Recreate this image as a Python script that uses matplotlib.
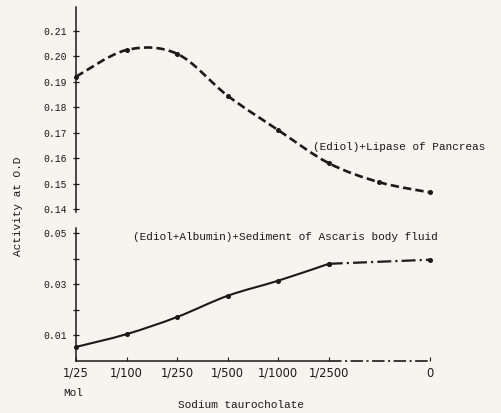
import numpy as np
import matplotlib.pyplot as plt
from matplotlib.path import Path
from matplotlib.patches import PathPatch
from matplotlib.transforms import blended_transform_factory

plt.rcParams['lines.scale_dashes'] = False

# sodium taurocholate concentrations (plot positions), "0" = no bile salt
conc_labels = ['1/25', '1/100', '1/250', '1/500', '1/1000', '1/2500', '0']
conc_pos = [0, 1, 2, 3, 4, 5, 7]

# (Ediol)+Lipase of Pancreas, extra reading between 1/2500 and 0
lipase_pos = [0, 1, 2, 3, 4, 5, 6, 7]
lipase_od = [0.192, 0.2025, 0.201, 0.1845, 0.171, 0.158, 0.1505, 0.1465]

# (Ediol+Albumin)+Sediment of Ascaris body fluid
ascaris_od = [0.0055, 0.0105, 0.0172, 0.0255, 0.0314, 0.038, 0.0396]

bg = '#f6f4ef'
ink = '#1a1a1a'
mono = 'Liberation Mono'

W, H = 501, 413
fig = plt.figure(figsize=(W / 100, H / 100), dpi=100, facecolor=bg)


def px_axes(left, top, right, bottom):
    return fig.add_axes([left / W, 1 - bottom / H, (right - left) / W, (bottom - top) / H])


def smooth_path(x, y):
    # Catmull-Rom through the readings, written as cubic Bezier segments
    x = np.asarray(x, float)
    y = np.asarray(y, float)
    verts = [(x[0], y[0])]
    codes = [Path.MOVETO]
    n = len(x)
    for i in range(n - 1):
        i0, i3 = max(i - 1, 0), min(i + 2, n - 1)
        c1 = (x[i] + (x[i + 1] - x[i0]) / 6, y[i] + (y[i + 1] - y[i0]) / 6)
        c2 = (x[i + 1] - (x[i3] - x[i]) / 6, y[i + 1] - (y[i3] - y[i]) / 6)
        verts += [c1, c2, (x[i + 1], y[i + 1])]
        codes += [Path.CURVE4] * 3
    return Path(verts, codes)


def draw_curve(ax, x, y, lw, dashes=None):
    ls = (0, dashes) if dashes else '-'
    ax.add_patch(PathPatch(smooth_path(x, y), fill=False, edgecolor=ink, lw=lw,
                           linestyle=ls, clip_on=False, capstyle='butt'))
    ax.plot(x, y, ls='none', marker='o', ms=2.6, mec=ink, mfc=ink, clip_on=False)


ax1 = px_axes(76, 7, 440, 212)
ax2 = px_axes(76, 228, 440, 361)

for ax in (ax1, ax2):
    ax.set_facecolor('none')
    ax.set_xlim(0, 7.2)
    for s in ('top', 'right', 'bottom'):
        ax.spines[s].set_visible(False)
    ax.spines['left'].set_color(ink)
    ax.spines['left'].set_linewidth(1.1)
    ax.tick_params(axis='y', direction='inout', length=5, width=0.9, color=ink,
                   labelsize=7, labelcolor=ink, pad=4)

# upper panel
ax1.set_ylim(0.1388, 0.2194)
ax1.set_yticks([0.14, 0.15, 0.16, 0.17, 0.18, 0.19, 0.20, 0.21])
ax1.set_yticklabels(['0.14', '0.15', '0.16', '0.17', '0.18', '0.19', '0.20', '0.21'],
                    family=mono)
ax1.set_xticks([])
draw_curve(ax1, lipase_pos, lipase_od, 1.9, dashes=(6, 3))
ax1.text(4.69, 0.1644, '(Ediol)+Lipase of Pancreas', family=mono, fontsize=8,
         color=ink, va='center', ha='left')

# lower panel
ax2.set_ylim(0, 0.052)
ax2.set_yticks([0.01, 0.02, 0.03, 0.04, 0.05])
ax2.set_yticklabels(['0.01', '', '0.03', '', '0.05'], family=mono)
draw_curve(ax2, conc_pos[:6], ascaris_od[:6], 1.5)
draw_curve(ax2, conc_pos[5:], ascaris_od[5:], 1.6, dashes=(10, 3, 1.5, 3))
ax2.text(1.13, 0.0484, '(Ediol+Albumin)+Sediment of Ascaris body fluid',
         family=mono, fontsize=8, color=ink, va='center', ha='left')

# x axis: solid up to 1/2500, dash-dot on to 0
tr = blended_transform_factory(ax2.transData, ax2.transAxes)
ax2.plot([0, 5], [0, 0], color=ink, lw=1.1, transform=tr, clip_on=False)
ax2.plot([5, 7], [0, 0], color=ink, lw=1.2, dashes=(9, 2.5, 1.5, 2.5),
         transform=tr, clip_on=False)
ax2.set_xticks(conc_pos)
ax2.set_xticklabels(conc_labels, family='DejaVu Sans', fontsize=8.3, color=ink)
ax2.tick_params(axis='x', direction='in', length=3, width=0.8, color=ink, pad=4)

fig.text(63 / W, 1 - 393 / H, 'Mol', family=mono, fontsize=8, color=ink,
         ha='left', va='center')
fig.text(178 / W, 1 - 405 / H, 'Sodium taurocholate', family=mono, fontsize=8,
         color=ink, ha='left', va='center')
fig.text(18 / W, 1 - 206 / H, 'Activity at O.D', family=mono, fontsize=8,
         color=ink, rotation=90, ha='center', va='center')

fig.savefig('out.png', dpi=100, facecolor=bg)
